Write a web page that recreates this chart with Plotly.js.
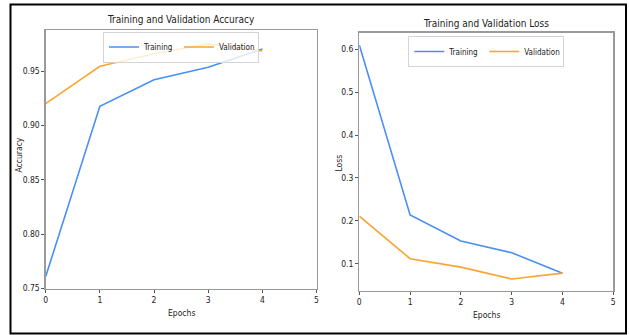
<!DOCTYPE html>
<html>
<head>
<meta charset="utf-8">
<script src="https://cdn.plot.ly/plotly-3.0.1.min.js"></script>
<style>html,body{margin:0;padding:0;background:#fff;}#chart{width:629px;height:335px;}</style>
</head>
<body>
<div id="chart"></div>
<script>
const epochs = [0, 1, 2, 3, 4];
const trainAcc = [0.761, 0.9176, 0.942, 0.9535, 0.9704];
const valAcc = [0.920, 0.9544, 0.966, 0.975, 0.9685];
const trainLoss = [0.610, 0.2135, 0.153, 0.1256, 0.0776];
const valLoss = [0.211, 0.1117, 0.092, 0.0643, 0.078];
const accTicks = [0.75, 0.80, 0.85, 0.90, 0.95];
const lossTicks = [0.1, 0.2, 0.3, 0.4, 0.5, 0.6];
const xTicks = [0, 1, 2, 3, 4, 5];

const blue = '#4a8ff5';
const orange = '#f9a533';
const FONT = 'DejaVu Sans Condensed, DejaVu Sans, sans-serif';

const W = 629, H = 335;
const px = v => v / W;
const py = v => 1 - v / H;

const traces = [
  {x: epochs, y: trainAcc, name: 'Training', mode: 'lines', line: {color: blue, width: 1.6}, xaxis: 'x', yaxis: 'y', legend: 'legend', legendwidth: 30},
  {x: epochs, y: valAcc, name: 'Validation', mode: 'lines', line: {color: orange, width: 1.6}, xaxis: 'x', yaxis: 'y', legend: 'legend', legendwidth: 34},
  {x: epochs, y: trainLoss, name: 'Training', mode: 'lines', line: {color: blue, width: 1.6}, xaxis: 'x2', yaxis: 'y2', legend: 'legend2', legendwidth: 30},
  {x: epochs, y: valLoss, name: 'Validation', mode: 'lines', line: {color: orange, width: 1.6}, xaxis: 'x2', yaxis: 'y2', legend: 'legend2', legendwidth: 34}
];

const axCommon = {
  showline: true, mirror: true, linecolor: '#9a9a9a', linewidth: 1.3,
  showgrid: false, zeroline: false, ticks: 'outside', ticklen: 3, tickwidth: 1,
  tickcolor: '#555', tickfont: {family: FONT, size: 8.5, color: '#222'}
};

const legCommon = {
  orientation: 'h', xanchor: 'center', yanchor: 'top',
  bgcolor: 'rgba(255,255,255,0.8)', bordercolor: '#d4d4d4', borderwidth: 1,
  font: {family: FONT, size: 8, color: '#222'}, itemwidth: 30, tracegroupgap: 0,
  entrywidthmode: 'pixels'
};

const labelFont = {family: FONT, size: 8.5, color: '#222'};
const titleFont = {family: FONT, size: 10, color: '#222'};

const layout = {
  width: W, height: H,
  margin: {l: 0, r: 0, t: 0, b: 0},
  paper_bgcolor: '#fff', plot_bgcolor: '#fff',
  font: {family: FONT, color: '#222'},
  showlegend: true,
  xaxis: Object.assign({}, axCommon, {domain: [px(45.7), px(316.5)], range: [0, 5], tickvals: xTicks, anchor: 'y'}),
  yaxis: Object.assign({}, axCommon, {domain: [py(288.5), py(30)], range: [0.75, 0.9878], tickvals: accTicks, ticktext: accTicks.map(v => v.toFixed(2)), anchor: 'x'}),
  xaxis2: Object.assign({}, axCommon, {domain: [px(359.3), px(613.3)], range: [0, 5], tickvals: xTicks, anchor: 'y2'}),
  yaxis2: Object.assign({}, axCommon, {domain: [py(290.7), py(32.7)], range: [0.037, 0.6387], tickvals: lossTicks, ticktext: lossTicks.map(v => v.toFixed(1)), anchor: 'x2'}),
  legend: Object.assign({}, legCommon, {x: px(181), y: py(31.5)}),
  legend2: Object.assign({}, legCommon, {x: px(486.3), y: py(36)}),
  annotations: [
    {text: 'Training and Validation Accuracy', xref: 'paper', yref: 'paper', x: px(181), y: py(20), xanchor: 'center', yanchor: 'middle', showarrow: false, font: titleFont},
    {text: 'Training and Validation Loss', xref: 'paper', yref: 'paper', x: px(486.3), y: py(23), xanchor: 'center', yanchor: 'middle', showarrow: false, font: titleFont},
    {text: 'Epochs', xref: 'paper', yref: 'paper', x: px(181), y: py(312.5), xanchor: 'center', yanchor: 'middle', showarrow: false, font: labelFont},
    {text: 'Epochs', xref: 'paper', yref: 'paper', x: px(486.3), y: py(315), xanchor: 'center', yanchor: 'middle', showarrow: false, font: labelFont},
    {text: 'Accuracy', xref: 'paper', yref: 'paper', x: px(18.5), y: py(155), xanchor: 'center', yanchor: 'middle', textangle: -90, showarrow: false, font: labelFont},
    {text: 'Loss', xref: 'paper', yref: 'paper', x: px(338.5), y: py(163), xanchor: 'center', yanchor: 'middle', textangle: -90, showarrow: false, font: labelFont}
  ],
  shapes: [
    {type: 'rect', xref: 'paper', yref: 'paper', x0: px(10.5), x1: px(626), y0: py(4.5), y1: py(333.5), line: {color: '#000', width: 2}, fillcolor: 'rgba(0,0,0,0)'}
  ]
};

Plotly.newPlot('chart', traces, layout, {staticPlot: true, displayModeBar: false});
</script>
</body>
</html>
